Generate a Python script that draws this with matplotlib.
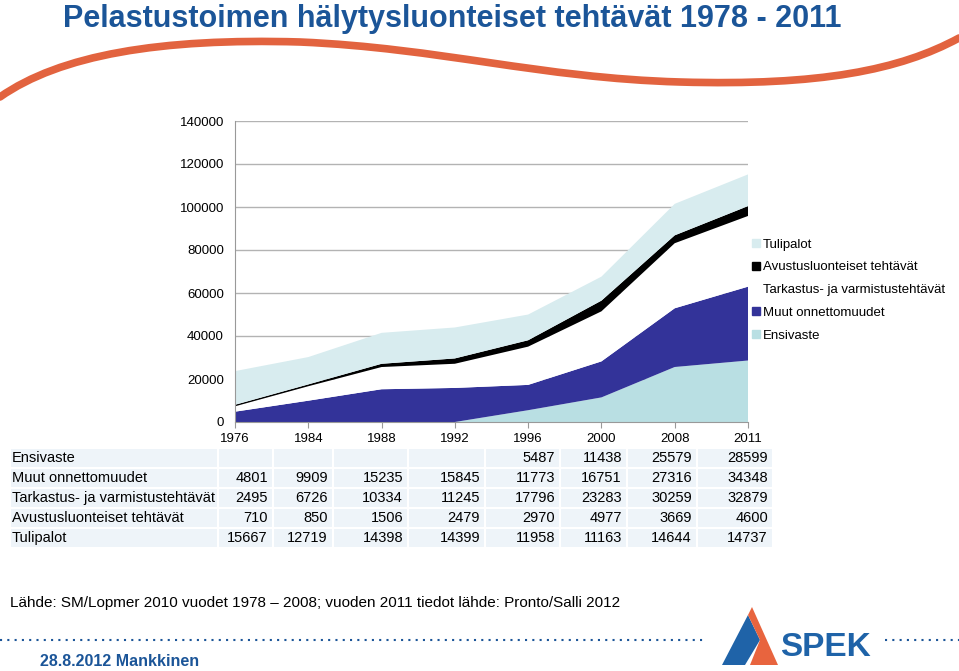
import numpy as np
import matplotlib
matplotlib.use("Agg")
import matplotlib.pyplot as plt
from matplotlib.patches import Rectangle, Polygon, PathPatch
from matplotlib.path import Path
from matplotlib.lines import Line2D

plt.rcParams['font.family'] = ['Liberation Sans', 'DejaVu Sans']

# data from the reference table
years = ["1976", "1984", "1988", "1992", "1996", "2000", "2008", "2011"]
ensivaste = [None, None, None, None, 5487, 11438, 25579, 28599]
muut = [4801, 9909, 15235, 15845, 11773, 16751, 27316, 34348]
tarkastus = [2495, 6726, 10334, 11245, 17796, 23283, 30259, 32879]
avustus = [710, 850, 1506, 2479, 2970, 4977, 3669, 4600]
tulipalot = [15667, 12719, 14398, 14399, 11958, 11163, 14644, 14737]

names = ["Ensivaste", "Muut onnettomuudet", "Tarkastus- ja varmistustehtävät",
         "Avustusluonteiset tehtävät", "Tulipalot"]
colors = ["#b9dfe3", "#333399", "#ffffff", "#000000", "#d8ecef"]

W, H = 959, 671


def fx(x):
    return x / W


def fy(y):
    return 1 - y / H


fig = plt.figure(figsize=(W / 100, H / 100), dpi=100)

# decorative swoosh under the title
verts = [(0, 97), (60, 55), (160, 38), (300, 42), (440, 48), (540, 78), (680, 82),
         (820, 86), (900, 70), (959, 38)]
codes = [Path.MOVETO] + [Path.CURVE4] * 9
swoosh = Path([(fx(x), fy(y)) for x, y in verts], codes)
fig.add_artist(PathPatch(swoosh, transform=fig.transFigure, fill=False,
                         edgecolor="#e2633f", lw=5.5, capstyle="round"))

fig.text(fx(63), fy(19), "Pelastustoimen hälytysluonteiset tehtävät 1978 - 2011",
         family=['Liberation Sans Narrow', 'Liberation Sans'], weight="bold",
         fontsize=22, color="#1b5598", va="center", ha="left")

ax = fig.add_axes([fx(235), fy(422), (748 - 235) / W, (422 - 121) / H])
x = np.arange(len(years))
series = [np.array([v if v is not None else 0 for v in ensivaste]),
          np.array(muut), np.array(tarkastus), np.array(avustus), np.array(tulipalot)]
ax.stackplot(x, *series, colors=colors, labels=names, zorder=2, linewidth=0)
ax.set_xlim(0, 7)
ax.set_ylim(0, 140000)
ax.set_yticks(np.arange(0, 140001, 20000))
ax.set_xticks(x)
ax.set_xticklabels(years)
ax.yaxis.grid(True, color="#b3b3b3", lw=1, zorder=0)
ax.set_axisbelow(True)
for s in ["top", "right"]:
    ax.spines[s].set_visible(False)
ax.spines["left"].set_color("#999999")
ax.spines["bottom"].set_color("#999999")
ax.tick_params(axis="y", length=0, pad=8, labelsize=9.5)
ax.tick_params(axis="x", length=4, color="#999999", pad=4, labelsize=9.5)

# legend (reverse order, top = Tulipalot)
handles = [Line2D([], [], marker="s", ls="", markersize=6, color=c) for c in colors][::-1]
fig.legend(handles, names[::-1], loc="upper left", bbox_to_anchor=(fx(744), fy(233)),
           frameon=False, fontsize=9.5, handletextpad=0.05, labelspacing=0.8,
           handlelength=1.0, borderaxespad=0)

# data table
cell_edges = [10, 218, 273, 333, 408, 485, 560, 627, 697, 773]
num_right = [268, 328, 403, 480, 555, 622, 692, 768]
row_top = 448
row_h = 20
rows = [ensivaste, muut, tarkastus, avustus, tulipalot]
for r, (name, vals) in enumerate(zip(names, rows)):
    top = row_top + r * row_h
    for c in range(len(cell_edges) - 1):
        fig.add_artist(Rectangle((fx(cell_edges[c]), fy(top + row_h)),
                                 (cell_edges[c + 1] - cell_edges[c]) / W, row_h / H,
                                 transform=fig.transFigure, facecolor="#eef4f9",
                                 edgecolor="white", lw=1.5))
    cy = fy(top + row_h / 2)
    fig.text(fx(12), cy, name, fontsize=10.5, va="center", ha="left")
    for c, v in enumerate(vals):
        if v is not None:
            fig.text(fx(num_right[c]), cy, str(v), fontsize=10.5, va="center", ha="right")

fig.text(fx(10), fy(603), "Lähde: SM/Lopmer 2010 vuodet 1978 – 2008; vuoden 2011 tiedot lähde: Pronto/Salli 2012",
         fontsize=11, va="center", ha="left")

# footer
fig.add_artist(Line2D([0, fx(705)], [fy(640), fy(640)], transform=fig.transFigure,
                      color="#1b5598", lw=1.5, ls=(0, (1, 2.5))))
fig.add_artist(Line2D([fx(885), 1], [fy(640), fy(640)], transform=fig.transFigure,
                      color="#1b5598", lw=1.5, ls=(0, (1, 2.5))))
fig.text(fx(40), fy(662), "28.8.2012 Mankkinen",
         family=['Liberation Sans Narrow', 'Liberation Sans'], weight="bold",
         fontsize=11.5, color="#1b5598", va="center", ha="left")

# SPEK logo
fig.add_artist(Polygon([(fx(722), fy(665)), (fx(748), fy(615)), (fx(760), fy(640)),
                        (fx(745), fy(665))], closed=True, transform=fig.transFigure,
                       facecolor="#1f63a8", edgecolor="none"))
fig.add_artist(Polygon([(fx(748), fy(615)), (fx(752), fy(607)), (fx(778), fy(665)),
                        (fx(750), fy(665)), (fx(760), fy(640))], closed=True,
                       transform=fig.transFigure, facecolor="#e8643e", edgecolor="none"))
fig.text(fx(780), fy(648), "SPEK", fontsize=24, color="#1f63a8", va="center", ha="left",
         family=['Liberation Sans'], weight="bold")

fig.savefig("out.png", dpi=100)
